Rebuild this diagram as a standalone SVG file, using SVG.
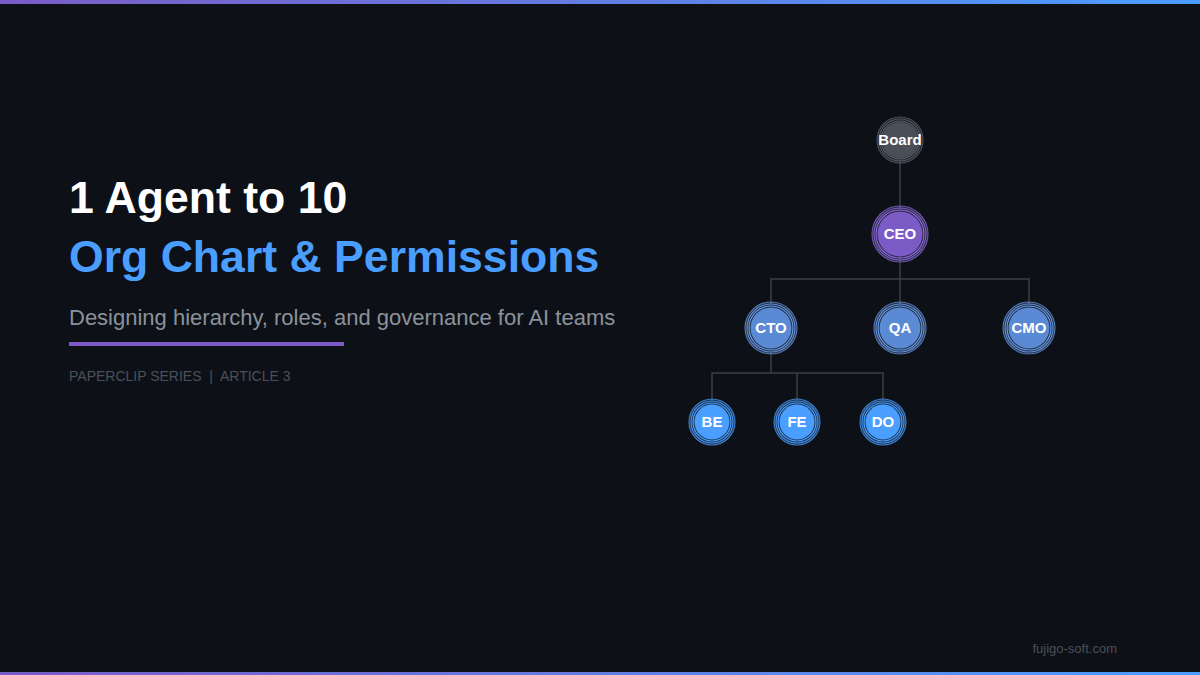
<svg xmlns="http://www.w3.org/2000/svg" width="1200" height="675" viewBox="0 0 1200 675">
<defs>
<linearGradient id="bar" x1="0" y1="0" x2="1" y2="0">
<stop offset="0" stop-color="#7b5cc6"/>
<stop offset="1" stop-color="#4a9eff"/>
</linearGradient>
<style>
.sans{font-family:"Liberation Sans",Arial,sans-serif}
.lbl{font-family:"Liberation Sans",Arial,sans-serif;font-weight:bold;font-size:15px;fill:#ffffff;text-anchor:middle}
.ring{fill:none;stroke-width:1.2}
.conn{fill:none;stroke:#3a3f47;stroke-width:1.5}
</style>
</defs>
<rect width="1200" height="675" fill="#0d1117"/>
<rect x="0" y="0" width="1200" height="4" fill="url(#bar)"/>
<rect x="0" y="672" width="1200" height="3" fill="url(#bar)"/>

<g id="title">
<text class="sans" x="69" y="213" font-size="44.6" font-weight="bold" fill="#ffffff">1 Agent to 10</text>
<text class="sans" x="69" y="272" font-size="44.6" font-weight="bold" fill="#4a9eff">Org Chart &amp; Permissions</text>
<text class="sans" x="69" y="325" font-size="22" fill="#8b929b">Designing hierarchy, roles, and governance for AI teams</text>
<rect x="69" y="342" width="275" height="4" fill="#7b5cc6"/>
<text class="sans" x="69" y="381" font-size="14" fill="#4a5058" xml:space="preserve">PAPERCLIP SERIES  |  ARTICLE 3</text>
</g>

<g id="connectors">
<line class="conn" x1="900" y1="160" x2="900" y2="210"/>
<polyline class="conn" points="900,256 900,279"/>
<polyline class="conn" points="771,304 771,279 1029,279 1029,304"/>
<line class="conn" x1="900" y1="279" x2="900" y2="304"/>
<polyline class="conn" points="771,352 771,373"/>
<polyline class="conn" points="712,400 712,373 883,373 883,400"/>
<line class="conn" x1="797" y1="373" x2="797" y2="400"/>
</g>

<g id="node-board">
<circle cx="900" cy="140" r="23" fill="#4a4f58" opacity="0.25"/>
<circle cx="900" cy="140" r="23" class="ring" stroke="#5d636c" opacity="0.7"/>
<circle cx="900" cy="140" r="21" class="ring" stroke="#5d636c" opacity="0.85"/>
<circle cx="900" cy="140" r="19" class="ring" stroke="#5d636c"/>
<circle cx="900" cy="140" r="18" fill="#4a4f58"/>
<text class="lbl" x="900" y="145">Board</text>
</g>

<g id="node-ceo">
<circle cx="900" cy="234" r="28" fill="#7b5cc6" opacity="0.25"/>
<circle cx="900" cy="234" r="28" class="ring" stroke="#8b6cd6" opacity="0.7"/>
<circle cx="900" cy="234" r="26" class="ring" stroke="#8b6cd6" opacity="0.85"/>
<circle cx="900" cy="234" r="24" class="ring" stroke="#8b6cd6"/>
<circle cx="900" cy="234" r="22.5" fill="#7b5cc6"/>
<text class="lbl" x="900" y="239">CEO</text>
</g>

<g id="node-cto">
<circle cx="771" cy="328" r="26" fill="#5b8ad4" opacity="0.25"/>
<circle cx="771" cy="328" r="26" class="ring" stroke="#6b9ae4" opacity="0.7"/>
<circle cx="771" cy="328" r="24" class="ring" stroke="#6b9ae4" opacity="0.85"/>
<circle cx="771" cy="328" r="22" class="ring" stroke="#6b9ae4"/>
<circle cx="771" cy="328" r="20.5" fill="#5b8ad4"/>
<text class="lbl" x="771" y="333">CTO</text>
</g>

<g id="node-qa">
<circle cx="900" cy="328" r="26" fill="#5b8ad4" opacity="0.25"/>
<circle cx="900" cy="328" r="26" class="ring" stroke="#6b9ae4" opacity="0.7"/>
<circle cx="900" cy="328" r="24" class="ring" stroke="#6b9ae4" opacity="0.85"/>
<circle cx="900" cy="328" r="22" class="ring" stroke="#6b9ae4"/>
<circle cx="900" cy="328" r="20.5" fill="#5b8ad4"/>
<text class="lbl" x="900" y="333">QA</text>
</g>

<g id="node-cmo">
<circle cx="1029" cy="328" r="26" fill="#5b8ad4" opacity="0.25"/>
<circle cx="1029" cy="328" r="26" class="ring" stroke="#6b9ae4" opacity="0.7"/>
<circle cx="1029" cy="328" r="24" class="ring" stroke="#6b9ae4" opacity="0.85"/>
<circle cx="1029" cy="328" r="22" class="ring" stroke="#6b9ae4"/>
<circle cx="1029" cy="328" r="20.5" fill="#5b8ad4"/>
<text class="lbl" x="1029" y="333">CMO</text>
</g>

<g id="node-be">
<circle cx="712" cy="422" r="23" fill="#4a9eff" opacity="0.25"/>
<circle cx="712" cy="422" r="23" class="ring" stroke="#4a9eff" opacity="0.7"/>
<circle cx="712" cy="422" r="21" class="ring" stroke="#4a9eff" opacity="0.85"/>
<circle cx="712" cy="422" r="19" class="ring" stroke="#4a9eff"/>
<circle cx="712" cy="422" r="17.5" fill="#4a9eff"/>
<text class="lbl" x="712" y="427">BE</text>
</g>

<g id="node-fe">
<circle cx="797" cy="422" r="23" fill="#4a9eff" opacity="0.25"/>
<circle cx="797" cy="422" r="23" class="ring" stroke="#4a9eff" opacity="0.7"/>
<circle cx="797" cy="422" r="21" class="ring" stroke="#4a9eff" opacity="0.85"/>
<circle cx="797" cy="422" r="19" class="ring" stroke="#4a9eff"/>
<circle cx="797" cy="422" r="17.5" fill="#4a9eff"/>
<text class="lbl" x="797" y="427">FE</text>
</g>

<g id="node-do">
<circle cx="883" cy="422" r="23" fill="#4a9eff" opacity="0.25"/>
<circle cx="883" cy="422" r="23" class="ring" stroke="#4a9eff" opacity="0.7"/>
<circle cx="883" cy="422" r="21" class="ring" stroke="#4a9eff" opacity="0.85"/>
<circle cx="883" cy="422" r="19" class="ring" stroke="#4a9eff"/>
<circle cx="883" cy="422" r="17.5" fill="#4a9eff"/>
<text class="lbl" x="883" y="427">DO</text>
</g>

<text class="sans" x="1117" y="653" font-size="13" fill="#4a5058" text-anchor="end">fujigo-soft.com</text>
</svg>
